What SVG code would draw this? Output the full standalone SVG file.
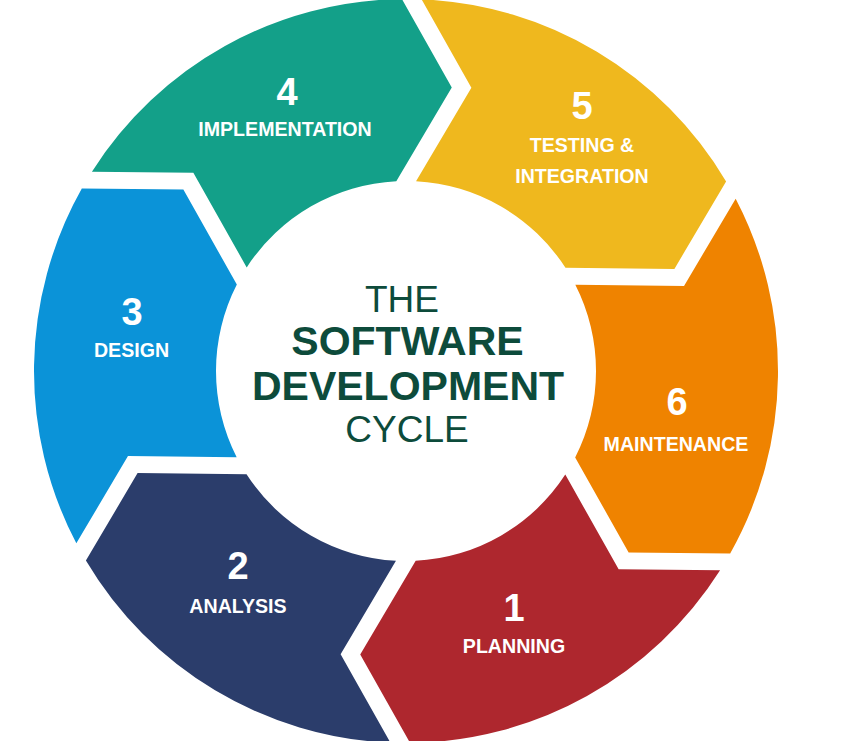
<svg xmlns="http://www.w3.org/2000/svg" width="851" height="741" viewBox="0 0 851 741">
  <defs>
    <!-- One ring segment in a local frame: trailing chevron notch at 0deg, leading chevron tip past 60deg -->
    <path id="seg" d="M371.82 11.69 A372 372 0 0 1 192.88 318.09 L104.92 267.32 L104.93 158.39 A190 190 0 0 0 189.83 8.06 L283.96 62.41 Z"/>
  </defs>
  <style>
    .num { font-family: "Liberation Sans", Arial, sans-serif; font-weight: bold; font-size: 38px; fill: #ffffff; text-anchor: middle; }
    .lbl { font-family: "Liberation Sans", Arial, sans-serif; font-weight: bold; font-size: 19.6px; fill: #ffffff; text-anchor: middle; }
    .title { font-family: "Liberation Sans", Arial, sans-serif; fill: #0d4b3b; text-anchor: middle; }
    .light { font-size: 37px; }
    .heavy { font-size: 41px; font-weight: bold; }
  </style>
  <rect width="851" height="741" fill="#ffffff"/>

  <g id="planning">
    <use href="#seg" transform="translate(406 371) rotate(30.6)" fill="#ae272e"/>
    <text class="num" x="514" y="621">1</text>
    <text class="lbl" x="514" y="653">PLANNING</text>
  </g>

  <g id="analysis">
    <use href="#seg" transform="translate(406 371) rotate(90.6)" fill="#2b3d6b"/>
    <text class="num" x="238" y="579">2</text>
    <text class="lbl" x="238" y="613">ANALYSIS</text>
  </g>

  <g id="design">
    <use href="#seg" transform="translate(406 371) rotate(150.6)" fill="#0b93d8"/>
    <text class="num" x="132" y="325">3</text>
    <text class="lbl" x="131.5" y="357">DESIGN</text>
  </g>

  <g id="implementation">
    <use href="#seg" transform="translate(406 371) rotate(210.6)" fill="#13a089"/>
    <text class="num" x="287" y="105">4</text>
    <text class="lbl" x="285" y="136">IMPLEMENTATION</text>
  </g>

  <g id="testing">
    <use href="#seg" transform="translate(406 371) rotate(270.6)" fill="#efb81e"/>
    <text class="num" x="582" y="119">5</text>
    <text class="lbl" x="582" y="152">TESTING &amp;</text>
    <text class="lbl" x="582" y="183">INTEGRATION</text>
  </g>

  <g id="maintenance">
    <use href="#seg" transform="translate(406 371) rotate(330.6)" fill="#ef8300"/>
    <text class="num" x="677" y="415">6</text>
    <text class="lbl" x="676" y="451">MAINTENANCE</text>
  </g>

  <g id="title">
    <text class="title light" x="402" y="312">THE</text>
    <text class="title heavy" x="407.5" y="355">SOFTWARE</text>
    <text class="title heavy" x="408" y="400">DEVELOPMENT</text>
    <text class="title light" x="407" y="442">CYCLE</text>
  </g>
</svg>
